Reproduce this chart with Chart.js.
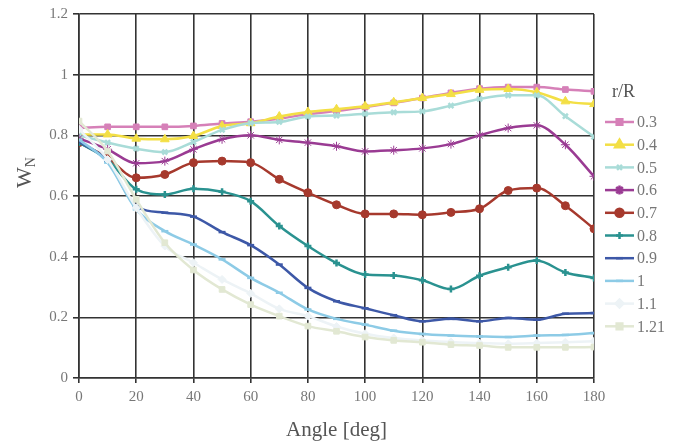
<!DOCTYPE html>
<html>
<head>
<meta charset="utf-8">
<script src="https://cdn.jsdelivr.net/npm/chart.js@4/dist/chart.umd.min.js"></script>
<style>
  html, body { margin: 0; padding: 0; background: #fff; }
  #wrap { width: 686px; height: 447px; position: relative; }
</style>
</head>
<body>
<div id="wrap"><canvas id="wakeChart"></canvas></div>
<script>
// angle positions (deg) along the blade
const angles = [0, 10, 20, 30, 40, 50, 60, 70, 80, 90, 100, 110, 120, 130, 140, 150, 160, 170, 180];
const radii = ['0.3', '0.4', '0.5', '0.6', '0.7', '0.8', '0.9', '1', '1.1', '1.21'];
const yTicks = [0, 0.2, 0.4, 0.6, 0.8, 1, 1.2];

const w03 = [0.825, 0.828, 0.828, 0.828, 0.831, 0.839, 0.845, 0.855, 0.870, 0.880, 0.893, 0.907, 0.923, 0.940, 0.954, 0.959, 0.959, 0.951, 0.945];
const w04 = [0.803, 0.803, 0.789, 0.787, 0.798, 0.831, 0.840, 0.862, 0.877, 0.886, 0.896, 0.909, 0.923, 0.936, 0.950, 0.953, 0.942, 0.912, 0.903];
const w05 = [0.800, 0.776, 0.756, 0.745, 0.778, 0.818, 0.840, 0.844, 0.862, 0.865, 0.871, 0.876, 0.879, 0.898, 0.920, 0.932, 0.932, 0.863, 0.795];
const w06 = [0.790, 0.754, 0.708, 0.715, 0.754, 0.787, 0.800, 0.785, 0.776, 0.764, 0.747, 0.751, 0.757, 0.771, 0.800, 0.824, 0.833, 0.769, 0.665];
const w07 = [0.776, 0.726, 0.660, 0.671, 0.710, 0.715, 0.710, 0.655, 0.611, 0.571, 0.541, 0.541, 0.538, 0.546, 0.558, 0.618, 0.626, 0.568, 0.492];
const w08 = [0.776, 0.720, 0.622, 0.605, 0.624, 0.614, 0.583, 0.501, 0.435, 0.379, 0.341, 0.338, 0.322, 0.293, 0.337, 0.365, 0.387, 0.348, 0.330];
const w09 = [0.780, 0.715, 0.567, 0.545, 0.532, 0.481, 0.438, 0.374, 0.297, 0.253, 0.230, 0.207, 0.187, 0.195, 0.187, 0.198, 0.192, 0.212, 0.214];
const w10 = [0.786, 0.710, 0.556, 0.484, 0.440, 0.391, 0.330, 0.281, 0.226, 0.195, 0.176, 0.156, 0.145, 0.140, 0.137, 0.135, 0.140, 0.142, 0.148];
const w11 = [0.820, 0.720, 0.561, 0.435, 0.380, 0.325, 0.279, 0.228, 0.204, 0.170, 0.146, 0.132, 0.124, 0.119, 0.115, 0.113, 0.115, 0.118, 0.121];
const w121 = [0.847, 0.748, 0.589, 0.446, 0.356, 0.292, 0.242, 0.204, 0.171, 0.154, 0.135, 0.124, 0.118, 0.110, 0.107, 0.101, 0.101, 0.101, 0.102];

const seriesValues = [w03, w04, w05, w06, w07, w08, w09, w10, w11, w121];
const colors = ['#d680b8', '#f3df45', '#a9dcd8', '#9a3b93', '#a6392d', '#2a9290', '#3d58a7', '#8dcbe6', '#edf3f6', '#e2e8d3'];
const markers = ['rect', 'triangle', 'crossRot', 'star', 'circle', 'cross', 'line', 'line', 'rectRot', 'rect'];
const markerSize = [4, 5, 3.5, 4.5, 4, 3.5, 3.5, 3.5, 4, 4];

const SERIF = '"Liberation Serif", "DejaVu Serif", serif';

const datasets = radii.map((r, i) => ({
  label: r,
  data: angles.map((a, k) => ({ x: a, y: seriesValues[i][k] })),
  borderColor: colors[i],
  backgroundColor: colors[i],
  pointBackgroundColor: colors[i],
  pointBorderColor: colors[i],
  pointBorderWidth: (markers[i] === 'cross' || markers[i] === 'crossRot' || markers[i] === 'line') ? 2.5 : 1,
  pointStyle: markers[i],
  pointRadius: markerSize[i],
  borderWidth: 2.5,
  tension: 0.3,
  cubicInterpolationMode: 'monotone'
}));
// draw the lighter curves underneath the darker ones
datasets.forEach((d, i) => { d.order = -i; });

// legend with line+marker samples and the r/R title
const sideLegend = {
  id: 'sideLegend',
  afterDraw(chart) {
    const ctx = chart.ctx;
    ctx.save();
    ctx.fillStyle = '#555';
    ctx.font = '18px ' + SERIF;
    ctx.textBaseline = 'middle';
    ctx.textAlign = 'left';
    ctx.fillText('r/R', 612, 92);
    ctx.font = '16px ' + SERIF;
    chart.data.datasets.forEach((ds, i) => {
      const y = 122 + i * 22.7;
      ctx.strokeStyle = ds.borderColor;
      ctx.lineWidth = 2.5;
      ctx.beginPath();
      ctx.moveTo(605, y);
      ctx.lineTo(634, y);
      ctx.stroke();
      ctx.fillStyle = ds.borderColor;
      if (Chart.helpers && Chart.helpers.drawPoint) {
        Chart.helpers.drawPoint(ctx, {
          pointStyle: ds.pointStyle,
          radius: ds.pointRadius,
          rotation: 0,
          borderWidth: ds.pointBorderWidth
        }, 619.5, y);
      }
      ctx.fillStyle = '#777';
      ctx.fillText(ds.label, 637, y + 1);
    });
    ctx.restore();
  }
};

// rotated W with subscript N
const yTitle = {
  id: 'yTitle',
  afterDraw(chart) {
    const ctx = chart.ctx;
    ctx.save();
    ctx.translate(31, 188);
    ctx.rotate(-Math.PI / 2);
    ctx.fillStyle = '#555';
    ctx.textBaseline = 'alphabetic';
    ctx.textAlign = 'left';
    ctx.font = '22px ' + SERIF;
    ctx.fillText('W', 0, 0);
    const w = ctx.measureText('W').width;
    ctx.font = '14px ' + SERIF;
    ctx.fillText('N', w, 4);
    ctx.restore();
  }
};

new Chart(document.getElementById('wakeChart'), {
  type: 'line',
  data: { datasets },
  plugins: [sideLegend, yTitle],
  options: {
    responsive: true,
    maintainAspectRatio: false,
    animation: false,
    layout: { padding: { top: 14, right: 92, left: 0, bottom: 0 } },
    plugins: {
      legend: { display: false },
      tooltip: { enabled: false }
    },
    scales: {
      x: {
        type: 'linear',
        min: 0,
        max: 180,
        afterBuildTicks(scale) {
          scale.ticks = [];
          for (let v = 0; v <= 180; v += 20) scale.ticks.push({ value: v });
        },
        afterFit(scale) { scale.height = 69; },
        grid: { color: '#333', lineWidth: 1.6, tickLength: 5, drawTicks: true },
        border: { color: '#333', width: 1.6 },
        ticks: {
          color: '#777',
          font: { family: SERIF, size: 15 },
          padding: 5,
          maxRotation: 0
        },
        title: {
          display: true,
          text: 'Angle [deg]',
          color: '#555',
          font: { family: SERIF, size: 21 },
          padding: { top: 2 }
        }
      },
      y: {
        min: 0,
        max: 1.2,
        afterBuildTicks(scale) {
          scale.ticks = yTicks.map(v => ({ value: v }));
        },
        afterFit(scale) { scale.width = 79; },
        grid: { color: '#333', lineWidth: 1.6, tickLength: 6 },
        border: { color: '#333', width: 1.6 },
        ticks: {
          color: '#777',
          font: { family: SERIF, size: 15 },
          padding: 5,
          callback: v => String(Math.round(v * 10) / 10)
        }
      }
    }
  }
});
</script>
</body>
</html>
